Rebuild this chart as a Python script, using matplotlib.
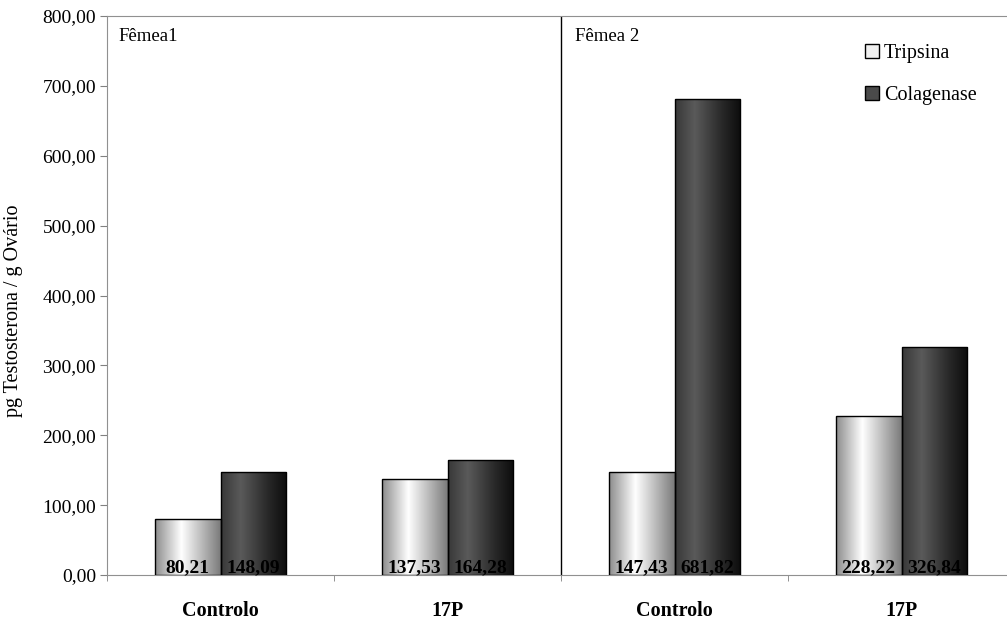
import matplotlib
matplotlib.use('Agg')
import matplotlib.pyplot as plt
import numpy as np
from matplotlib.colors import LinearSegmentedColormap
from matplotlib.patches import Rectangle
from matplotlib.ticker import FuncFormatter, FixedLocator

plt.rcParams['font.family'] = 'Liberation Serif'

categorias = ['Controlo', '17P', 'Controlo', '17P']
femeas = ['Fêmea1', 'Fêmea 2']
tripsina = [80.21, 137.53, 147.43, 228.22]
colagenase = [148.09, 164.28, 681.82, 326.84]

# sombreado cilindrico das barras
cm_trip = LinearSegmentedColormap.from_list(
    'trip', [(0, '#8c8c8c'), (0.4, '#ffffff'), (1, '#7a7a7a')])
cm_col = LinearSegmentedColormap.from_list(
    'col', [(0, '#383838'), (0.3, '#5a5a5a'), (0.7, '#2a2a2a'), (1, '#0c0c0c')])
grad = np.linspace(0, 1, 256).reshape(1, -1)


def virgula(v, pos=None):
    return ('%.2f' % v).replace('.', ',')


fig = plt.figure(figsize=(10.07, 6.25), dpi=100)
ax = fig.add_axes([107 / 1007, 50 / 625, 908 / 1007, 559 / 625])

x = np.arange(len(categorias))
w = 0.29
bars_t = ax.bar(x - w / 2, tripsina, w, facecolor='none', edgecolor='black', lw=1, zorder=3)
bars_c = ax.bar(x + w / 2, colagenase, w, facecolor='none', edgecolor='black', lw=1, zorder=3)

for bars, cm, vals in [(bars_t, cm_trip, tripsina), (bars_c, cm_col, colagenase)]:
    for b, v in zip(bars, vals):
        x0 = b.get_x()
        im = ax.imshow(grad, cmap=cm, aspect='auto', zorder=2,
                       extent=[x0, x0 + b.get_width(), 0, b.get_height()])
        im.set_clip_path(b)
        ax.text(x0 + b.get_width() / 2, 4, virgula(v), ha='center', va='baseline',
                fontsize=14, fontweight='bold', color='black', zorder=4)

ax.set_xlim(-0.5, 3.5)
ax.set_ylim(0, 800)

ax.yaxis.set_major_locator(FixedLocator(np.arange(0, 801, 100)))
ax.yaxis.set_major_formatter(FuncFormatter(virgula))
ax.tick_params(axis='y', labelsize=14, length=5, color='#808080', pad=3)
ax.set_ylabel('pg Testosterona / g Ovário', fontsize=14.5, labelpad=10)
ax.yaxis.set_label_coords(-0.093, 0.472)

ax.set_xticks(x)
ax.set_xticklabels(categorias, fontsize=14.5, fontweight='bold')
ax.set_xticks(np.arange(-0.5, 4, 1), minor=True)
ax.tick_params(axis='x', which='major', length=0, pad=19)
ax.tick_params(axis='x', which='minor', length=4, color='#808080')

for s in ['left', 'bottom', 'top']:
    ax.spines[s].set_color('#909090')
ax.spines['right'].set_visible(False)

# separacao entre as duas femeas
ax.axvline(1.5, color='black', lw=1, zorder=1)
ax.text(-0.45, 770, femeas[0], fontsize=13.5, va='center')
ax.text(1.56, 770, femeas[1], fontsize=13.5, va='center')

handles = [Rectangle((0, 0), 1, 1, facecolor='#f0f0f0', edgecolor='black'),
           Rectangle((0, 0), 1, 1, facecolor='#4a4a4a', edgecolor='black')]
ax.legend(handles, ['Tripsina', 'Colagenase'], loc='upper left',
          bbox_to_anchor=(865 / 1007, 1 - 44 / 625), bbox_transform=fig.transFigure,
          frameon=False, fontsize=14.5, handlelength=0.7, handleheight=0.7,
          handletextpad=0.25, labelspacing=1.15, borderaxespad=0, borderpad=0)

fig.savefig('out.png', dpi=100)
